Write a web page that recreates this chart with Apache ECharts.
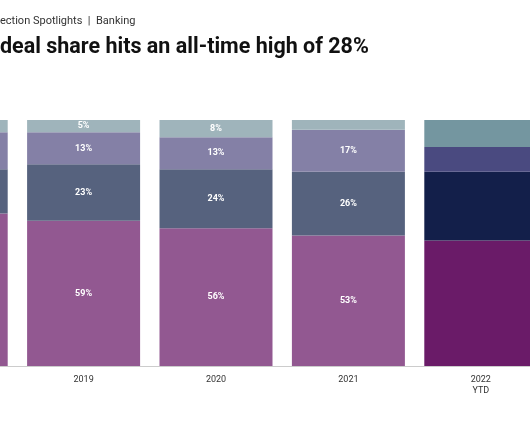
<!DOCTYPE html>
<html><head><meta charset="utf-8">
<script src="https://cdn.jsdelivr.net/npm/echarts@6/dist/echarts.min.js"></script>
<style>html,body{margin:0;padding:0;background:#fff;overflow:hidden;width:530px;height:442px;}
#wrap{position:relative;width:530px;height:442px;overflow:hidden;}
#c{position:absolute;left:-115px;top:0;width:662px;height:442px;}</style>
</head><body><div id="wrap"><div id="c"></div></div>
<script>
var categories = ['2018', '2019', '2020', '2021', '2022\nYTD'];
var seriesNames = ['A', 'B', 'C', 'D'];
var valuesA = [62, 59, 56, 53, 51];
var valuesB = [18, 23, 24, 26, 28];
var valuesC = [15, 13, 13, 17, 10];
var valuesD = [5, 5, 8, 4, 11];
var showLabels = [false, true, true, true, false];

var baseColors = ['#925891', '#56627e', '#8480a6', '#9fb4bb'];
var hiColors = ['#6a1b68', '#131f4a', '#4a4a80', '#7496a0'];

var offsetX = 115;
var allValues = [valuesA, valuesB, valuesC, valuesD];
var series = allValues.map(function (vals, s) {
  return {
    name: seriesNames[s],
    type: 'bar',
    stack: 'total',
    barWidth: 113,
    data: vals.map(function (v, i) {
      return {
        value: v,
        itemStyle: { color: i === vals.length - 1 ? hiColors[s] : baseColors[s] },
        label: { show: showLabels[i] && v >= 5 }
      };
    }),
    label: {
      show: true, position: 'inside', formatter: '{c}%',
      color: '#fff', fontSize: 9, fontWeight: 'bold', fontFamily: 'Roboto'
    },
    emphasis: { disabled: true }
  };
});

var chart = echarts.init(document.getElementById('c'));
chart.setOption({
  animation: false,
  backgroundColor: '#fff',
  graphic: [
    { type: 'text', left: offsetX, top: 16, style: { text: 'ection Spotlights  |  Banking', fontSize: 11, fontFamily: 'Roboto', fill: '#333' } },
    { type: 'text', left: offsetX, top: 37, style: { text: 'deal share hits an all-time high of 28%', fontSize: 21.5, fontWeight: 'bold', fontFamily: 'Roboto', fill: '#111' } }
  ],
  grid: { left: 0, right: 0, top: 120, bottom: 76, containLabel: false },
  xAxis: {
    type: 'category', data: categories,
    axisLine: { show: true, lineStyle: { color: '#cccccc', width: 1 } },
    axisTick: { show: false },
    axisLabel: { color: '#333', fontSize: 9, fontFamily: 'Roboto', margin: 8, lineHeight: 11 }
  },
  yAxis: { type: 'value', min: 0, max: 100, show: false },
  series: series
});
</script></body></html>
